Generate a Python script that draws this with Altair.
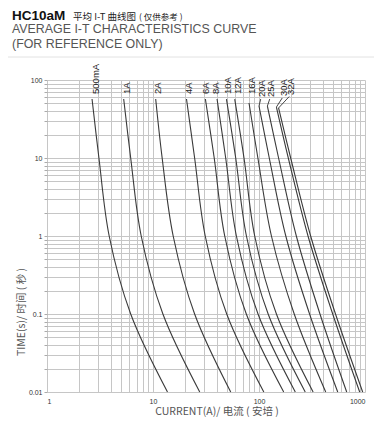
import altair as alt
import pandas as pd

# ---- data (current in A, time in s) ----
ratings = ["500mA", "1A", "2A", "4A", "6A", "8A", "10A", "12A", "16A", "20A", "25A", "30A", "32A"]
t_start = [57, 57, 57, 57, 57, 57, 57, 57, 50.7, 46.4, 46.4, 45, 43.8]
i_start = [2.66, 5.29, 10.6, 20.7, 31.2, 40.2, 49.3, 59.0, 80.5, 100, 120, 146, 153]
i_10s = [3.09, 6.16, 12.2, 24.7, 37.8, 48.5, 60.3, 72.2, 97.6, 125, 153, 189, 199]
i_1s = [3.86, 7.74, 15.5, 31.1, 47.5, 61.2, 76.1, 91.1, 131, 179, 225, 290, 307]
i_100ms = [6.16, 12.4, 24.7, 49.6, 75.9, 97.9, 122, 146, 215, 300, 376, 496, 527]
i_10ms = [13.7, 27.6, 54.1, 111, 171, 220, 273, 324, 426, 553, 672, 891, 951]

# curve labels (current, time at text start)
label_i = [2.88, 5.71, 11.2, 21.7, 31.4, 39.0, 51.2, 63.6, 85.3, 106, 130, 173, 199]
label_t = [66.2, 66.2, 66.2, 66.2, 66.2, 66.2, 66.2, 66.2, 66.2, 60.5, 60.5, 62.3, 64.2]

# leader lines for the crowded labels
leader_name = ["20A", "25A", "30A", "32A"]
leader_i1 = [103.8, 126.2, 165.6, 192.8]
leader_t1 = [57.0, 57.0, 58.8, 61.4]
leader_i2 = [100, 120, 146, 153]
leader_t2 = [46.4, 46.4, 45, 43.8]

x_ticks = [m * 10 ** e for e in range(0, 3) for m in range(1, 10)] + [1000]
y_ticks = [round(m * 10 ** e, 4) for e in range(-2, 2) for m in range(1, 10)] + [100]

rows = []
for k, r in enumerate(ratings):
    pts = [(i_start[k], t_start[k]), (i_10s[k], 10), (i_1s[k], 1), (i_100ms[k], 0.1), (i_10ms[k], 0.01)]
    for j, (i, t) in enumerate(pts):
        rows.append({"rating": r, "current": i, "time": t, "o": j})
curves_df = pd.DataFrame(rows)
labels_df = pd.DataFrame({"rating": ratings, "current": label_i, "time": label_t})
leaders_df = pd.DataFrame({"rating": leader_name, "i1": leader_i1, "t1": leader_t1,
                           "i2": leader_i2, "t2": leader_t2})

xscale = alt.Scale(type="log", domain=[1, 1000], nice=False)
yscale = alt.Scale(type="log", domain=[0.01, 100], nice=False)

xaxis = alt.Axis(values=x_ticks, grid=True, gridColor="#c6c6c6", gridWidth=1, domain=False,
                 ticks=False, labelFontSize=7, labelPadding=5, labelColor="#333",
                 labelFont="Liberation Sans", title=None,
                 labelExpr="indexof([1,10,100,1000], datum.value) >= 0 ? format(datum.value, 'd') : ''")
yaxis = alt.Axis(values=y_ticks, grid=True, gridColor="#c6c6c6", gridWidth=1, domain=False,
                 ticks=True, tickSize=3, tickColor="#aaa", labelFontSize=7, labelPadding=2,
                 labelColor="#333", labelFont="Liberation Sans", title=None,
                 labelExpr="indexof([0.01,0.1,1,10,100], datum.value) >= 0 ? toString(datum.value) : ''")

curves = alt.Chart(curves_df).mark_line(color="#3a3a3a", strokeWidth=1.1, interpolate="catmull-rom").encode(
    x=alt.X("current:Q", scale=xscale, axis=xaxis),
    y=alt.Y("time:Q", scale=yscale, axis=yaxis),
    detail="rating:N",
    order="o:Q",
)

labels = alt.Chart(labels_df).mark_text(angle=270, align="left", baseline="middle", fontSize=9.5,
                                        font="Liberation Sans", color="#222").encode(
    x=alt.X("current:Q", scale=xscale),
    y=alt.Y("time:Q", scale=yscale),
    text="rating:N",
)

leaders = alt.Chart(leaders_df).mark_rule(color="#333", strokeWidth=0.9).encode(
    x=alt.X("i1:Q", scale=xscale),
    y=alt.Y("t1:Q", scale=yscale),
    x2="i2:Q",
    y2="t2:Q",
)

one = pd.DataFrame({"a": [0]})


def txt(s, x, y, size, color="#222", weight="normal", font="Liberation Sans", angle=0, align="left"):
    return alt.Chart(one).mark_text(text=s, fontSize=size, color=color, fontWeight=weight, font=font,
                                    align=align, baseline="alphabetic", angle=angle).encode(
        x=alt.value(x), y=alt.value(y))


titles = [
    txt("HC10aM", -35, -60, 13.5, "#111", "bold"),
    txt("平均 I-T 曲线图", 26, -60, 9.5, "#222", font="Noto Sans CJK SC"),
    txt("( 仅供参考 )", 92, -60.5, 8.5, "#222", font="Noto Sans CJK SC"),
    txt("AVERAGE I-T CHARACTERISTICS CURVE", -35, -47, 12.4, "#555"),
    txt("(FOR REFERENCE ONLY)", -35, -32, 12.4, "#555"),
    txt("CURRENT(A)/ 电流 ( 安培 )", 170, 335, 10.5, "#555", font="Noto Sans CJK SC", align="center"),
    txt("TIME(s)/ 时间 ( 秒 )", -22, 232, 10.5, "#555", font="Noto Sans CJK SC", angle=270, align="center"),
]

sep = alt.Chart(one).mark_rule(color="#e2e2e2", strokeWidth=1).encode(
    x=alt.value(-47), x2=alt.value(327), y=alt.value(-23))

chart = alt.layer(curves, leaders, labels, sep, *titles).properties(
    width=318, height=312,
    padding={"left": 39, "top": 72, "right": 9, "bottom": 28},
    autosize=alt.AutoSizeParams(type="none"),
).configure_view(stroke="transparent")

chart.save("out.html", embed_options={"renderer": "svg", "actions": False})
